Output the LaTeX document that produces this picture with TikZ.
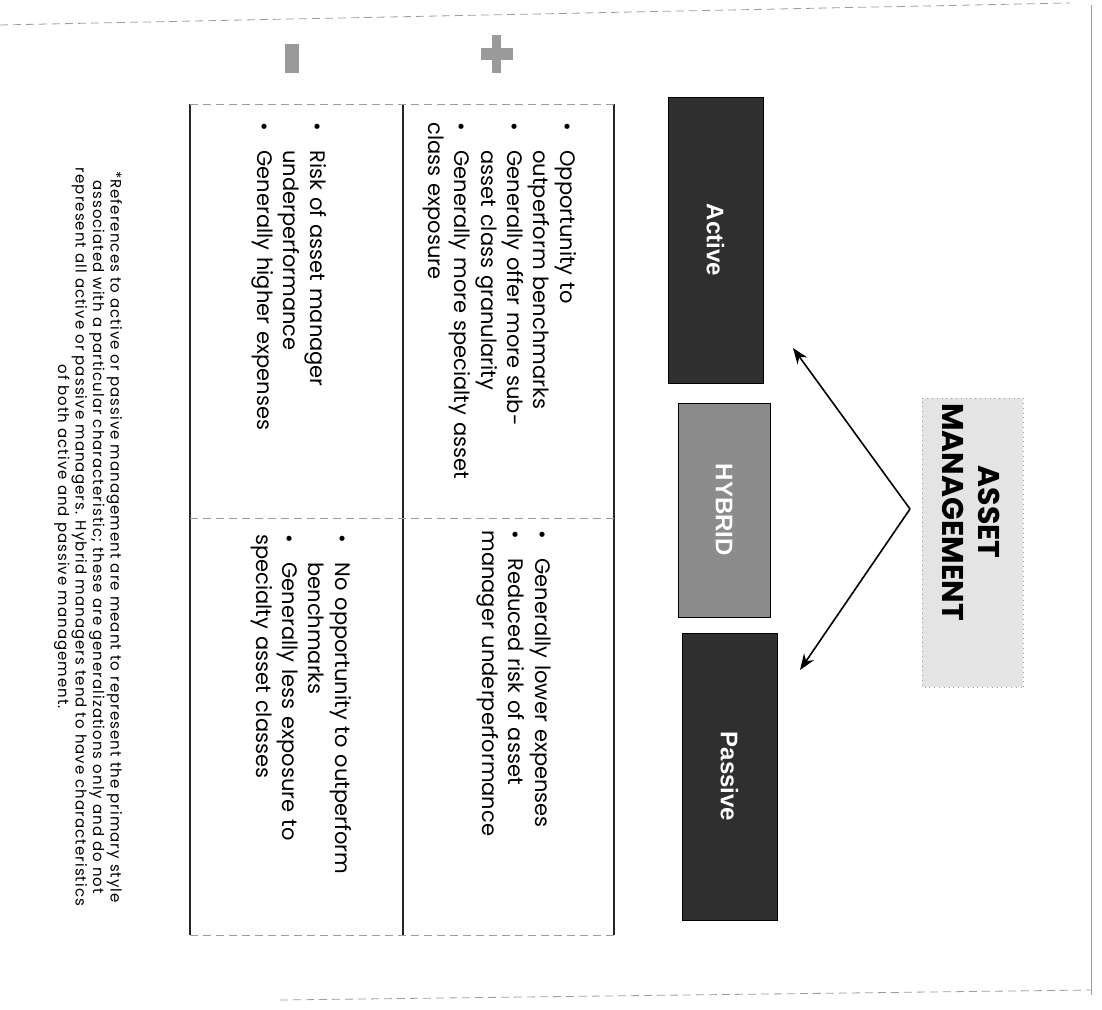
\documentclass[tikz,border=0pt]{standalone}
\usepackage{fontspec}
\setmainfont{Poppins}
\newfontfamily\boxfont{Liberation Sans}
\newfontfamily\notefont[LetterSpace=7]{Poppins}
\usetikzlibrary{arrows.meta,positioning}
\definecolor{darkbox}{HTML}{2F2F2F}
\definecolor{hybridbox}{HTML}{8C8C8C}
\definecolor{titlebox}{HTML}{E4E4E4}
\definecolor{rulegray}{HTML}{9C9C9C}
\definecolor{icongray}{HTML}{9A9A9A}
\newcommand{\bitem}[1]{\par\noindent\hangindent=14pt\hangafter=1\makebox[14pt][l]{\textbullet}#1}

\begin{document}
\begin{tikzpicture}[x=0.5pt, y=-0.5pt,
    catbox/.style={rectangle, draw=black, fill=darkbox, text=white, rotate=-90, inner sep=0pt, font=\boxfont\bfseries\fontsize{12}{14}\selectfont},
    cell/.style={rotate=-90, anchor=north west, inner sep=0pt, text width=195pt, align=left, font=\fontsize{10.5}{13.2}\selectfont},
    tablerule/.style={black!85, line width=0.7pt},
    gridrule/.style={rulegray, line width=0.4pt, dash pattern=on 4pt off 2.5pt},
    pointer/.style={-{Stealth[length=8pt, width=6pt]}, line width=0.8pt}
]
    \useasboundingbox (0,0) rectangle (1102,1010);

    % page edges of the scan
    \draw[gridrule] (0,25) -- (1070,3);
    \draw[rulegray, line width=0.5pt] (1091,5) -- (1091,995);
    \draw[gridrule] (280,1000) -- (1091,990);

    % title and the two arrows
    \node[rectangle, draw=rulegray, dotted, fill=titlebox, rotate=-90, minimum width=144.5pt, minimum height=50.5pt] (titlebox) at (972.5,542.5) {};
    \node[rotate=-90, align=center, font=\bfseries\fontsize{15}{18}\selectfont] (title) at (971,512) {ASSET\\MANAGEMENT};
    \coordinate (apex) at (910,509);
    \coordinate (activetip) at (793,348);
    \coordinate (passivetip) at (800,670);
    \draw[pointer] (apex) -- (activetip);
    \draw[pointer] (apex) -- (passivetip);

    % the three styles
    \node[catbox, minimum width=143pt, minimum height=47.5pt] (active) at (715.5,240) {Active};
    \node[catbox, fill=hybridbox, minimum width=107pt, minimum height=46pt] (hybrid) at (724,510) {HYBRID};
    \node[catbox, minimum width=143.5pt, minimum height=47.5pt] (passive) at (729.5,776.5) {Passive};

    % table
    \draw[tablerule] (614,104) -- (614,935);
    \draw[tablerule] (403,104) -- (403,935);
    \draw[tablerule] (190,104) -- (190,935);
    \draw[gridrule] (190,104) -- (614,104);
    \draw[gridrule] (190,518) -- (614,518);
    \draw[gridrule] (190,935) -- (614,935);

    % plus and minus marks
    \fill[icongray] (492,35) rectangle (501,73);
    \fill[icongray] (481,48) rectangle (513,60);
    \fill[icongray] (285,44) rectangle (299,73);

    \node[cell] (activepro) at (587,122) {\bitem{Opportunity to\newline outperform benchmarks}\bitem{Generally offer more sub-\newline asset class granularity}\bitem{Generally more specialty asset\newline class exposure}};
    \node[cell] (passivepro) at (562,530) {\bitem{Generally lower expenses}\bitem{Reduced risk of asset\newline manager underperformance}};
    \node[cell] (activecon) at (337,122) {\bitem{Risk of asset manager\newline underperformance}\bitem{Generally higher expenses}};
    \node[cell] (passivecon) at (362,534) {\bitem{No opportunity to outperform\newline benchmarks}\bitem{Generally less exposure to\newline specialty asset classes}};

    % footnote
    \node[rotate=-90, align=center, font=\notefont\fontsize{7.5}{7.2}\selectfont] (footnote) at (88,537) {*References to active or passive management are meant to represent the primary style\\associated with a particular characteristic; these are generalizations only and do not\\represent all active or passive managers. Hybrid managers tend to have characteristics\\of both active and passive management.};
\end{tikzpicture}
\end{document}
